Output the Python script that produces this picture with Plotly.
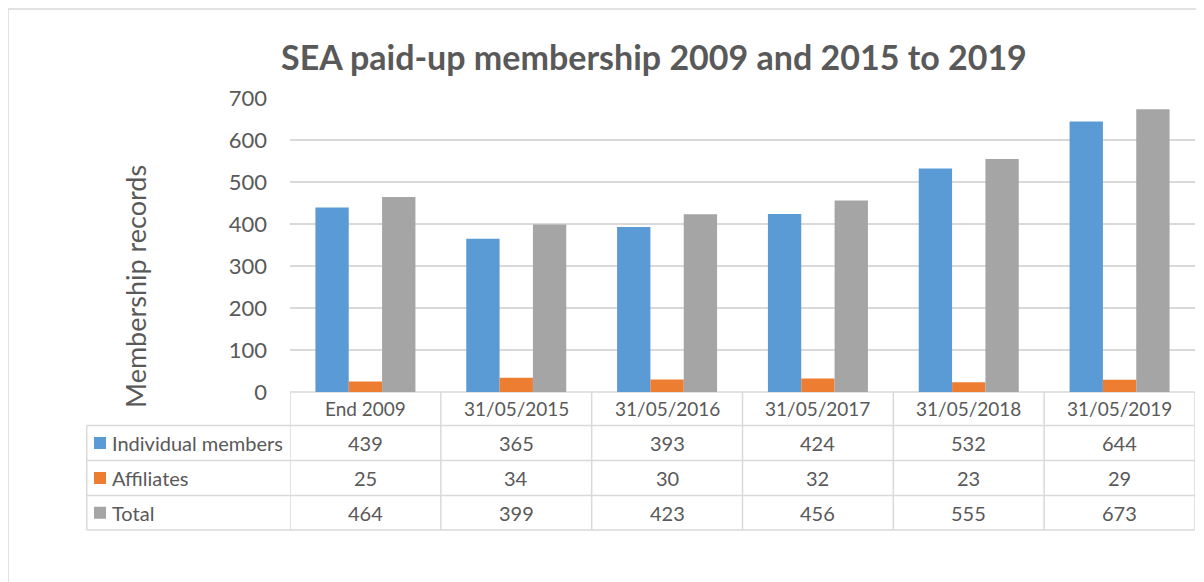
import plotly.graph_objects as go

categories = ["End 2009", "31/05/2015", "31/05/2016", "31/05/2017", "31/05/2018", "31/05/2019"]
individual = [439, 365, 393, 424, 532, 644]
affiliates = [25, 34, 30, 32, 23, 29]
total = [464, 399, 423, 456, 555, 673]
series_names = ["Individual members", "Affiliates", "Total"]
series_values = [individual, affiliates, total]
colors = ["#5B9BD5", "#ED7D31", "#A5A5A5"]
y_ticks = [0, 100, 200, 300, 400, 500, 600, 700]
title_text = "SEA paid-up membership 2009 and 2015 to 2019"
y_title = "Membership records"

OFF = 8  # page body margin offset
W, H = 1204 - OFF, 582 - OFF
PL, PR, PT, PB = 290 - OFF, 1195 - OFF, 98 - OFF, 392 - OFF
FONT = "Lato, Carlito, Calibri, sans-serif"
TXT = "#595959"
GRID = "#D9D9D9"


def pxx(x):
    return (x - OFF - PL) / (PR - PL)


def pxy(y):
    return (PB - (y - OFF)) / (PB - PT)


fig = go.Figure()
for name, vals, col in zip(series_names, series_values, colors):
    fig.add_trace(go.Bar(x=categories, y=vals, name=name, marker=dict(color=col, line=dict(width=0))))

shapes = []
annotations = []
row_lines = [392, 425.5, 460.5, 495.5, 530]
row_centers = [(row_lines[i] + row_lines[i + 1]) / 2 for i in range(4)]
table_left = 86.7
lw = 1.5

shapes.append(dict(type="line", xref="x", yref="paper", x0=-0.5, x1=len(categories) - 0.5,
                   y0=pxy(row_lines[0]), y1=pxy(row_lines[0]), line=dict(color=GRID, width=lw), layer="below"))
for yl in row_lines[1:]:
    shapes.append(dict(type="line", xref="paper", yref="paper", x0=pxx(table_left), x1=1,
                       y0=pxy(yl), y1=pxy(yl), line=dict(color=GRID, width=lw)))
for i in range(len(categories) + 1):
    shapes.append(dict(type="line", xref="x", yref="paper", x0=i - 0.5, x1=i - 0.5,
                       y0=pxy(row_lines[0]), y1=pxy(row_lines[-1]), line=dict(color=GRID, width=lw)))
shapes.append(dict(type="line", xref="paper", yref="paper", x0=pxx(table_left), x1=pxx(table_left),
                   y0=pxy(row_lines[1]), y1=pxy(row_lines[-1]), line=dict(color=GRID, width=lw)))

# outer chart frame
shapes.append(dict(type="rect", xref="paper", yref="paper", x0=pxx(8), x1=pxx(1300),
                   y0=pxy(700), y1=pxy(9), line=dict(color=GRID, width=1.5), layer="below"))

for c in categories:
    annotations.append(dict(x=c, xref="x", y=pxy(row_centers[0]), yref="paper", text=c, showarrow=False,
                            font=dict(family=FONT, size=19, color=TXT), xanchor="center", yanchor="middle"))
for r, (name, vals, col) in enumerate(zip(series_names, series_values, colors)):
    yc = row_centers[r + 1]
    shapes.append(dict(type="rect", xref="paper", yref="paper", x0=pxx(94), x1=pxx(106),
                       y0=pxy(yc + 6), y1=pxy(yc - 6), fillcolor=col, line=dict(width=0)))
    annotations.append(dict(x=pxx(110), xref="paper", y=pxy(yc), yref="paper", text=name, showarrow=False,
                            font=dict(family=FONT, size=20, color=TXT), xanchor="left", yanchor="middle"))
    for c, v in zip(categories, vals):
        annotations.append(dict(x=c, xref="x", y=pxy(yc), yref="paper", text=str(v), showarrow=False,
                                font=dict(family=FONT, size=20, color=TXT), xanchor="center", yanchor="middle"))

annotations.append(dict(x=pxx(654), xref="paper", y=pxy(57), yref="paper", text="<b>" + title_text + "</b>",
                        showarrow=False, font=dict(family=FONT, size=34, color=TXT), xanchor="center", yanchor="middle"))
annotations.append(dict(x=pxx(135), xref="paper", y=pxy(287), yref="paper", text=y_title, textangle=-90,
                        showarrow=False, font=dict(family=FONT, size=27, color=TXT), xanchor="center", yanchor="middle"))

fig.update_layout(
    width=W, height=H,
    margin=dict(l=PL, r=W - PR, t=PT, b=H - PB, pad=0),
    paper_bgcolor="white", plot_bgcolor="white",
    barmode="group", bargap=0.337, bargroupgap=0,
    showlegend=False,
    shapes=shapes, annotations=annotations,
    xaxis=dict(type="category", range=[-0.5, len(categories) - 0.5], showticklabels=False,
               showgrid=False, zeroline=False, showline=False, ticks=""),
    yaxis=dict(range=[0, 700], tickvals=y_ticks, showgrid=True, gridcolor=GRID, gridwidth=1.5,
               zeroline=False, showline=False, ticks="", ticklabelstandoff=22,
               tickfont=dict(family=FONT, size=22, color=TXT)),
)

fig.write_html("out.html")
